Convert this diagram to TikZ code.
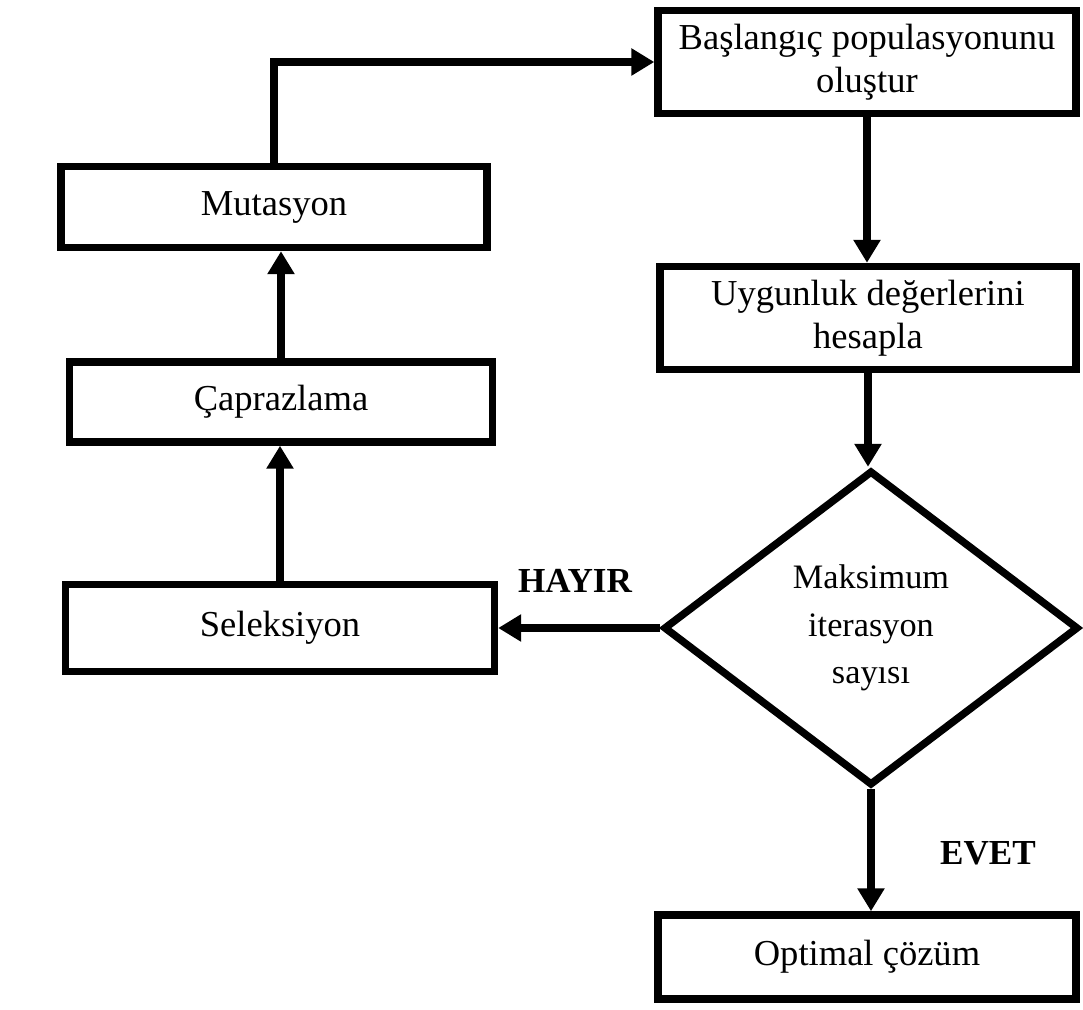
\documentclass[tikz,border=0pt]{standalone}
\usepackage{fontspec}
\setmainfont{Liberation Serif}
\usetikzlibrary{arrows.meta,shapes.geometric}

\begin{document}
\begin{tikzpicture}[x=0.02cm,y=-0.02cm,
    box/.style={draw, rectangle, line width=0.15cm, align=center, inner sep=0pt,
        font=\fontsize{20.8}{24.5}\selectfont},
    decision/.style={draw, diamond, line width=0.15cm, align=center, inner sep=0pt,
        font=\fontsize{19.5}{27}\selectfont},
    flow/.style={line width=0.15cm, line join=miter, -{Triangle[length=0.46cm,width=0.52cm]}},
    tag/.style={font=\bfseries\fontsize{20}{23}\selectfont}]
    \useasboundingbox (0,0) rectangle (1083,1010);
    % right column
    \node[box, minimum width=8.36cm, minimum height=2.06cm] (bas) at (867,62) {Başlangıç populasyonunu\\oluştur};
    \node[box, minimum width=8.32cm, minimum height=2.06cm] (uyg) at (868,318) {Uygunluk değerlerini\\hesapla};
    \node[decision, minimum width=8.3cm, minimum height=6.3cm] (dia) at (871,628) {Maksimum\\iterasyon\\sayısı};
    \node[box, minimum width=8.36cm, minimum height=1.68cm] (opt) at (867,957) {Optimal çözüm};
    % left column
    \node[box, minimum width=8.52cm, minimum height=1.62cm] (mut) at (274,207) {Mutasyon};
    \node[box, minimum width=8.46cm, minimum height=1.6cm] (cap) at (281,402) {Çaprazlama};
    \node[box, minimum width=8.58cm, minimum height=1.74cm] (sel) at (280,628) {Seleksiyon};
    % connectors
    \draw[flow] (mut.north) |- (bas.west);
    \draw[flow] (bas.south) -- (bas.south |- uyg.north);
    \draw[flow] (uyg.south) -- (uyg.south |- dia.north);
    \draw[flow] (dia.south) -- (dia.south |- opt.north);
    \draw[flow] (dia.west) -- (sel.east);
    \draw[flow] (sel.north) -- (sel.north |- cap.south);
    \draw[flow] (cap.north) -- (cap.north |- mut.south);
    \node[tag] (no) at (575,581) {HAYIR};
    \node[tag] (yes) at (988,853) {EVET};
\end{tikzpicture}
\end{document}
